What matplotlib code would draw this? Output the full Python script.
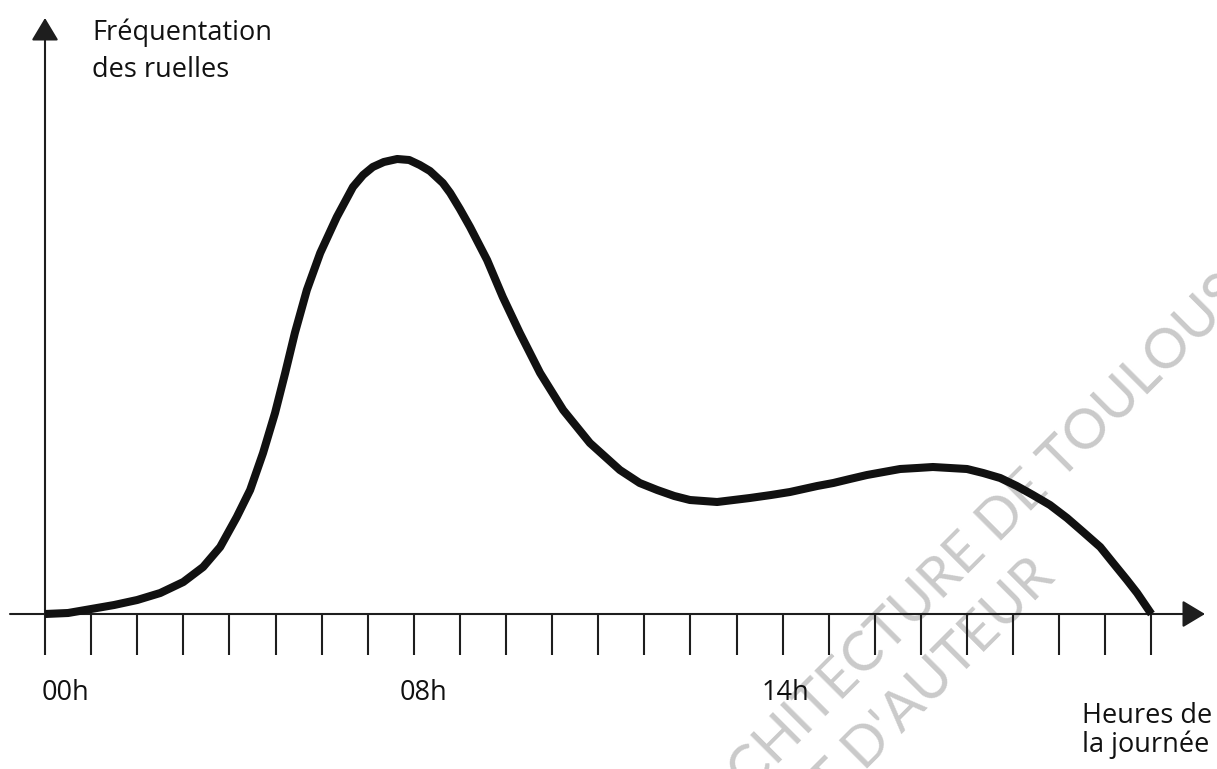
import matplotlib
matplotlib.use("Agg")
import matplotlib.pyplot as plt

plt.rcParams['font.family'] = ['Open Sans', 'DejaVu Sans']

# heures de la journée (0 -> 24) et fréquentation relative
hours = [0.0, 0.5, 1.0, 1.5, 2.0, 2.5, 3.0, 3.43, 3.80, 4.16, 4.45, 4.73, 4.99,
         5.21, 5.42, 5.68, 5.97, 6.33, 6.68, 6.9, 7.11, 7.35, 7.64, 7.9, 8.13,
         8.35, 8.63, 8.79, 9.0, 9.22, 9.59, 9.93, 10.30, 10.74, 11.24, 11.82,
         12.47, 12.9, 13.28, 13.65, 13.99, 14.58, 15.29, 15.75, 16.16, 16.75,
         17.1, 17.46, 17.83, 18.55, 18.92, 19.26, 19.63, 20.0, 20.35, 20.72,
         21.08, 21.43, 21.8, 22.17, 22.52, 22.89, 23.17, 23.47, 23.69, 24.0]
frequentation = [0, 1, 5, 9, 14, 21, 32, 47, 67, 97, 124, 161, 201,
                 241, 281, 324, 361, 397, 427, 439, 447, 452, 455, 454, 449,
                 443, 431, 421, 405, 387, 354, 317, 281, 241, 204, 171,
                 144, 131, 124, 118, 114, 112, 116, 119, 122, 128,
                 131, 135, 139, 145, 146, 147, 146, 145, 141, 136,
                 128, 119, 109, 96, 82, 67, 51, 34, 21, 0]

tick_hours = list(range(0, 25))
hour_labels = ['00h', '08h', '14h']
hour_label_pos = [-0.07, 7.70, 15.55]

y_title = ['Fréquentation', 'des ruelles']
x_title = ['Heures de', 'la journée']
watermark = ['ARCHITECTURE DE TOULOUSE', "DROIT D'AUTEUR"]

# mise en page : 1 unité x = 1 heure (46.1 px), 1 unité y = 1 px
PX_H = 46.1
X0 = 45
Y0 = 614


def hx(px):
    return (px - X0) / PX_H


def vy(py):
    return Y0 - py


fig = plt.figure(figsize=(12.17, 7.69), dpi=100)
ax = fig.add_axes([0, 0, 1, 1])
ax.set_xlim(hx(0), hx(1217))
ax.set_ylim(vy(769), vy(0))
ax.axis('off')

axis_col = '#1e1e1e'
txt_col = '#111111'

# filigrane
wm_font = dict(fontsize=40, color='#cacaca', family=['Lato', 'DejaVu Sans'],
               rotation=45, rotation_mode='anchor', ha='center', va='center',
               zorder=0)
ax.text(hx(972), vy(548), watermark[0], **wm_font)
ax.text(hx(884), vy(730), watermark[1], **wm_font)

# axes avec flèches
arrow = dict(arrowstyle='-|>,head_length=0.7,head_width=0.42', color=axis_col,
             lw=1.5, shrinkA=0, shrinkB=0, mutation_scale=20)
ax.annotate('', xy=(hx(1205), 0), xytext=(hx(10), 0), arrowprops=arrow, zorder=2)
ax.annotate('', xy=(0, vy(18)), xytext=(0, 0), arrowprops=arrow, zorder=2)

# graduations horaires
ax.vlines(tick_hours, vy(655), 0, color=axis_col, lw=1.5, zorder=2)

# courbe de fréquentation
ax.plot(hours, frequentation, color=txt_col, lw=5.8, solid_joinstyle='round',
        solid_capstyle='butt', zorder=3)

# textes
fs = 19.5
for lab, pos in zip(hour_labels, hour_label_pos):
    ax.text(pos, vy(700), lab, fontsize=fs, ha='left', va='baseline', color=txt_col)

ax.text(hx(92), vy(40), y_title[0], fontsize=fs, ha='left', va='baseline', color=txt_col)
ax.text(hx(92), vy(77), y_title[1], fontsize=fs, ha='left', va='baseline', color=txt_col)
ax.text(hx(1082), vy(723), x_title[0], fontsize=fs, ha='left', va='baseline', color=txt_col)
ax.text(hx(1082), vy(752), x_title[1], fontsize=fs, ha='left', va='baseline', color=txt_col)

plt.savefig('out.png', dpi=100, facecolor='white')
plt.close()
